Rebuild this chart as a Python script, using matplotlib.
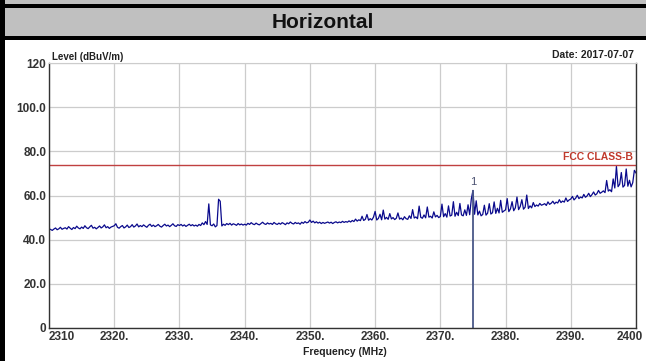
import numpy as np
import matplotlib
matplotlib.use('Agg')
import matplotlib.pyplot as plt
from matplotlib.patches import Rectangle
from matplotlib.transforms import ScaledTranslation

plt.rcParams['font.family'] = ['Liberation Sans', 'DejaVu Sans']

# sweep 2310 .. 2400 MHz, 0.25 MHz steps, level in dBuV/m
level_2310 = [45.0, 44.6, 44.2, 44.8, 45.3, 44.5, 44.9, 45.6, 44.7, 45.1,
              45.4, 44.8, 45.9, 45.2, 44.6, 45.5, 45.0, 46.1, 45.3, 44.9,
              45.7, 45.1, 46.3, 45.4, 45.0, 45.8, 46.5, 45.2, 45.6, 44.9,
              45.5, 46.2, 45.3, 45.8, 46.7, 45.4, 45.9, 45.1, 45.7, 46.0]
level_2320 = [46.3, 47.2, 45.6, 45.2, 45.9, 46.4, 45.3, 45.8, 46.6, 45.5,
              45.9, 46.8, 45.7, 46.2, 47.1, 45.8, 46.4, 45.9, 46.7, 46.1,
              45.6, 46.5, 47.0, 46.0, 46.6, 45.9, 46.3, 46.9, 46.1, 45.7,
              46.4, 47.0, 46.2, 46.6, 45.9, 46.5, 47.2, 46.3, 46.0, 46.8]
level_2330 = [46.4, 46.9, 46.2, 46.7, 46.0, 46.5, 47.0, 46.3, 46.8, 46.2,
              46.6, 46.1, 46.9, 46.4, 47.6, 46.8, 48.2, 46.9, 56.2, 46.7,
              46.3, 47.1, 45.8, 46.4, 58.3, 57.4, 46.2, 47.0, 46.5, 47.3,
              46.8, 47.4, 46.6, 47.2, 46.9, 46.5, 47.3, 46.7, 47.1, 46.6]
level_2340 = [47.0, 46.6, 47.4, 46.9, 47.7, 47.1, 46.8, 47.5, 47.0, 46.7,
              47.3, 47.9, 47.2, 46.9, 47.6, 47.1, 47.4, 46.9, 47.8, 47.2,
              46.9, 47.5, 47.0, 47.7, 47.3, 46.8, 47.6, 47.2, 48.0, 47.4,
              47.1, 47.8, 47.3, 47.6, 47.0, 47.9, 47.4, 48.2, 47.6, 47.9]
level_2350 = [48.9, 47.8, 48.4, 47.6, 48.1, 47.5, 47.9, 47.3, 47.8, 47.4,
              47.7, 48.0, 47.5, 47.9, 47.3, 47.8, 48.1, 47.6, 48.0, 47.7,
              48.3, 47.8, 48.2, 47.9, 48.5, 48.0, 48.7, 48.2, 49.3, 48.4,
              49.0, 48.6, 50.6, 48.7, 49.2, 51.4, 48.8, 49.5, 48.9, 50.2]
level_2360 = [52.8, 48.9, 49.6, 51.5, 49.0, 53.4, 49.3, 50.1, 49.2, 51.8,
              49.4, 50.0, 49.1, 49.7, 52.1, 49.3, 49.8, 49.0, 50.4, 49.5,
              49.2, 50.8, 49.6, 53.6, 49.8, 50.3, 49.5, 55.2, 50.1, 49.7,
              51.2, 49.9, 54.8, 50.2, 50.6, 49.8, 52.6, 50.3, 51.0, 50.0]
level_2370 = [50.5, 56.1, 50.4, 51.8, 50.2, 55.3, 50.7, 51.1, 57.2, 50.6,
              52.4, 50.9, 56.4, 51.2, 50.8, 53.5, 51.0, 55.8, 51.3, 58.4,
              62.3, 51.5, 57.6, 51.2, 52.9, 50.8, 51.4, 55.6, 51.1, 52.0,
              56.3, 51.6, 52.2, 57.1, 51.9, 54.2, 52.1, 57.8, 52.4, 53.0]
level_2380 = [53.5, 58.6, 52.7, 53.9, 57.2, 53.1, 54.4, 59.3, 53.6, 55.0,
              58.1, 53.8, 54.7, 60.2, 54.1, 55.3, 54.4, 56.8, 55.0, 55.7,
              55.2, 56.4, 55.6, 55.9, 56.3, 55.5, 57.1, 56.0, 56.5, 57.4,
              56.2, 57.0, 56.6, 58.1, 56.8, 57.5, 57.0, 58.9, 57.3, 58.0]
level_2390 = [58.4, 59.6, 58.0, 58.8, 60.1, 58.6, 59.3, 58.9, 60.5, 59.2,
              59.8, 61.0, 59.5, 60.4, 61.6, 60.2, 60.8, 62.3, 61.0, 61.5,
              62.1, 61.3, 66.8, 62.0, 62.6, 61.7, 67.5, 63.4, 73.2, 64.0,
              65.1, 70.4, 63.8, 64.6, 72.0, 64.2, 66.9, 63.9, 65.8, 71.4,
              70.2]

level = (level_2310 + level_2320 + level_2330 + level_2340 + level_2350
         + level_2360 + level_2370 + level_2380 + level_2390)
freq = np.linspace(2310, 2400, len(level))

limit_level = 74.0
limit_name = 'FCC CLASS-B'
marker_freq = 2375.0
marker_level = 62.3

x_ticks = [2310, 2320, 2330, 2340, 2350, 2360, 2370, 2380, 2390, 2400]
x_labels = ['2310', '2320.', '2330.', '2340.', '2350.', '2360.', '2370.',
            '2380.', '2390.', '2400']
y_ticks = [0, 20, 40, 60, 80, 100, 120]
y_labels = ['0', '20.0', '40.0', '60.0', '80.0', '100.0', '120']

W, H = 646, 361
fig = plt.figure(figsize=(W / 100, H / 100), dpi=100)

# table frame around the plot, drawn in pixel coords
bg = fig.add_axes([0, 0, 1, 1])
bg.set_xlim(0, W)
bg.set_ylim(H, 0)
bg.axis('off')
bg.add_patch(Rectangle((0, 0), W, 4, color='#c0c0c0', lw=0))
bg.add_patch(Rectangle((0, 4), W, 3.5, color='black', lw=0))
bg.add_patch(Rectangle((0, 7.5), W, 28, color='#c0c0c0', lw=0))
bg.add_patch(Rectangle((0, 35.5), W, 4, color='black', lw=0))
bg.add_patch(Rectangle((0, 0), 5, H, color='black', lw=0))
bg.text(W / 2, 22, 'Horizontal', ha='center', va='center',
        fontsize=15, fontweight='bold', color='#111111')

ax = fig.add_axes([49 / W, 33 / H, 587 / W, 265 / H])
ax.plot(freq, level, color='#0a0a8c', lw=0.9)
ax.axhline(limit_level, color='#c04040', lw=1.0)
ax.text(2399.5, limit_level + 1.2, limit_name, ha='right', va='bottom',
        color='#c0392b', fontsize=7.5, fontweight='bold')
ax.vlines(marker_freq, 0, marker_level, color='#4a5888', lw=1.3)
ax.text(marker_freq, marker_level + 1.5, '1', ha='center', va='bottom',
        color='#4a5070', fontsize=8)

ax.set_xlim(2310, 2400)
ax.set_ylim(0, 120)
ax.set_xticks(x_ticks)
ax.set_xticklabels(x_labels)
ax.set_yticks(y_ticks)
ax.set_yticklabels(y_labels)
ax.tick_params(length=0, labelsize=8.5, colors='#333333', pad=2)
for lab in ax.get_xticklabels() + ax.get_yticklabels():
    lab.set_fontweight('bold')
xl = ax.get_xticklabels()
xl[0].set_ha('left')
xl[-1].set_ha('right')
xl[-1].set_transform(xl[-1].get_transform() +
                     ScaledTranslation(7 / 100, 0, fig.dpi_scale_trans))
ax.grid(True, color='#cccccc', lw=0.9)
ax.set_axisbelow(True)
ax.spines['top'].set_color('#cccccc')
for s in ['left', 'bottom', 'right']:
    ax.spines[s].set_color('#333333')
    ax.spines[s].set_linewidth(1.0)

fig.text(52 / W, 1 - 57 / H, 'Level (dBuV/m)', fontsize=7, fontweight='bold',
         color='#222222', va='center', ha='left')
fig.text(634 / W, 1 - 55 / H, 'Date: 2017-07-07', fontsize=7.5,
         fontweight='bold', color='#222222', va='center', ha='right')
fig.text(345 / W, 1 - 352 / H, 'Frequency (MHz)', fontsize=7.5,
         fontweight='bold', color='#222222', va='center', ha='center')

fig.savefig('out.png', dpi=100)
